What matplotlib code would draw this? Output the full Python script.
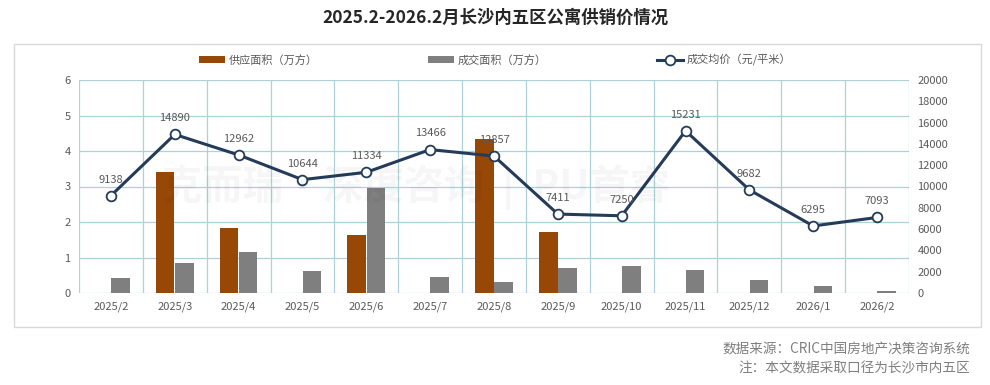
import matplotlib.pyplot as plt
import matplotlib.patches as mpatches
import numpy as np

plt.rcParams['font.family'] = ['Noto Sans CJK SC', 'DejaVu Sans']

months = ["2025/2", "2025/3", "2025/4", "2025/5", "2025/6", "2025/7", "2025/8",
          "2025/9", "2025/10", "2025/11", "2025/12", "2026/1", "2026/2"]
supply = [0, 3.42, 1.83, 0, 1.63, 0, 4.35, 1.72, 0, 0, 0, 0, 0]
deal = [0.43, 0.85, 1.16, 0.62, 2.96, 0.45, 0.31, 0.71, 0.75, 0.64, 0.36, 0.19, 0.05]
price = [9138, 14890, 12962, 10644, 11334, 13466, 12857, 7411, 7250, 15231, 9682, 6295, 7093]

BROWN = "#974706"
GREY = "#7f7f7f"
NAVY = "#243b5a"
GRID = "#acd2d8"
TXT = "#595959"

fig = plt.figure(figsize=(9.9, 3.85), dpi=100)
W, H = 990, 385
ax = fig.add_axes([79 / W, 1 - 293 / H, (909 - 79) / W, (293 - 80) / H])

n = len(months)
x = np.arange(n)
bw = 0.29
ax.bar(x - 0.15, supply, bw, color=BROWN, zorder=2, label="供应面积（万方）")
ax.bar(x + 0.15, deal, bw, color=GREY, zorder=2, label="成交面积（万方）")
ax.set_xlim(-0.5, n - 0.5)
ax.set_ylim(0, 6)
ax.set_yticks(range(7))
ax.set_xticks(x)
ax.set_xticklabels(months)
for b in np.arange(-0.5, n, 1):
    ax.axvline(b, color=GRID, lw=0.9, zorder=0)
for yv in range(7):
    ax.axhline(yv, color=GRID, lw=0.9, zorder=0)
ax.tick_params(axis="both", length=0, colors=TXT, labelsize=8)
ax.tick_params(axis="x", pad=6)
ax.tick_params(axis="y", pad=6)
for s in ax.spines.values():
    s.set_visible(False)

ax2 = ax.twinx()
ax2.plot(x, price, color=NAVY, lw=2.2, marker="o", ms=7, mfc="white", mec=NAVY, mew=1.3,
         zorder=5, label="成交均价（元/平米）")
ax2.set_ylim(0, 20000)
ax2.set_yticks(range(0, 20001, 2000))
ax2.tick_params(axis="y", length=0, colors=TXT, labelsize=8, pad=6)
for s in ax2.spines.values():
    s.set_visible(False)
for xi, p in zip(x, price):
    ax2.annotate(str(p), (xi, p), xytext=(0, 8), textcoords="offset points",
                 ha="center", va="bottom", fontsize=8, color=TXT, zorder=6)

# watermark
fig.text(0.42, 1 - 187 / H, "克而瑞·深度咨询  |  PU首睿", ha="center", va="center",
         fontsize=29, fontweight="bold", color="#000000", alpha=0.035, zorder=0)

# frame
fig.patches.append(mpatches.Rectangle((14 / W, 1 - 327 / H), (981 - 14) / W, (327 - 44) / H,
                                      transform=fig.transFigure, fill=False,
                                      edgecolor="#d9d9d9", lw=1.0))

fig.text(0.5, 1 - 18 / H, "2025.2-2026.2月长沙内五区公寓供销价情况", ha="center", va="center",
         fontsize=12.5, fontweight="bold", color="#262626")

h1, l1 = ax.get_legend_handles_labels()
h2, l2 = ax2.get_legend_handles_labels()
fig.legend(h1 + h2, l1 + l2, loc="center", bbox_to_anchor=(0.5, 1 - 60 / H), ncol=3,
           frameon=False, fontsize=8, labelcolor=TXT, columnspacing=9.9,
           handlelength=2.4, handleheight=0.6, handletextpad=0.3)

fig.text(970 / W, 1 - 349 / H, "数据来源：CRIC中国房地产决策咨询系统", ha="right", va="center",
         fontsize=9.8, color=GREY)
fig.text(970 / W, 1 - 368 / H, "注：本文数据采取口径为长沙市内五区", ha="right", va="center",
         fontsize=9.8, color=GREY)

fig.savefig("out.png", dpi=100)
